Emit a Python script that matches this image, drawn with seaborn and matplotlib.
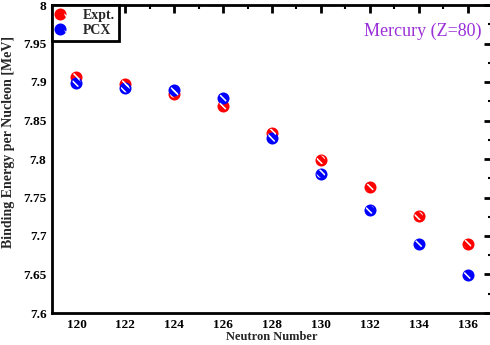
import matplotlib
matplotlib.use("Agg")
import matplotlib.pyplot as plt
import matplotlib.collections as mcoll
import seaborn as sns
import pandas as pd
import numpy as np
from matplotlib.ticker import MultipleLocator
from matplotlib.legend_handler import HandlerTuple

neutrons = [120, 122, 124, 126, 128, 130, 132, 134, 136]
expt = [7.907, 7.898, 7.885, 7.869, 7.834, 7.799, 7.763, 7.726, 7.690]
pcx = [7.899, 7.892, 7.889, 7.879, 7.827, 7.781, 7.734, 7.690, 7.649]

sns.set_theme(style="white")
plt.rcParams['font.family'] = ['Liberation Serif', 'DejaVu Serif']
plt.rcParams['hatch.linewidth'] = 1.1

df = pd.concat([
    pd.DataFrame({"N": neutrons, "BE": expt, "set": "Expt."}),
    pd.DataFrame({"N": neutrons, "BE": pcx, "set": "PCX"}),
])

fig = plt.figure(figsize=(4.9, 3.45), dpi=100)
ax = fig.add_axes([52/490, 32/345, 440/490, 308/345])

colors = {"Expt.": "#ff0000", "PCX": "#0000ff"}
handles = []
for name in ["Expt.", "PCX"]:
    sub = df[df["set"] == name]
    n0 = len(ax.collections)
    sns.scatterplot(data=sub, x="N", y="BE", ax=ax, s=75, marker="o",
                    color=colors[name], edgecolor=colors[name], linewidth=0,
                    legend=False, zorder=3)
    sns.scatterplot(data=sub, x="N", y="BE", ax=ax, s=38, marker="o",
                    facecolor="none", edgecolor="white", linewidth=0,
                    hatch="\\\\\\\\", legend=False, zorder=4)
    handles.append((ax.collections[n0], ax.collections[n0 + 1]))

ax.set_xlim(119, 137)
ax.set_ylim(7.6, 8.0)
ax.xaxis.set_major_locator(MultipleLocator(2))
ax.xaxis.set_minor_locator(MultipleLocator(1))
ax.yaxis.set_minor_locator(MultipleLocator(0.025))
ax.set_yticks([7.6, 7.65, 7.7, 7.75, 7.8, 7.85, 7.9, 7.95, 8.0])
ax.set_yticklabels(["7.6", "7.65", "7.7", "7.75", "7.8", "7.85", "7.9", "7.95", "8"])
ax.tick_params(which="both", direction="in", top=True, right=True, colors="black",
               labelsize=9.5, pad=4)
ax.tick_params(which="major", length=6, width=2)
ax.tick_params(which="minor", length=3, width=1.5)
for lab in ax.get_xticklabels() + ax.get_yticklabels():
    lab.set_fontweight("bold")
for sp in ax.spines.values():
    sp.set_linewidth(2)
    sp.set_color("black")

ax.set_xlabel("Neutron Number", fontsize=9, fontweight="bold", labelpad=0)
ax.set_ylabel("Binding Energy per Nucleon [MeV]", fontsize=10, fontweight="bold")
ax.yaxis.set_label_coords(-0.085, 0.555)

ax.text(0.975, 0.915, "Mercury (Z=80)", transform=ax.transAxes, ha="right", va="center",
        color="#9b30d9", fontsize=13)

leg = ax.legend(handles, ["Expt.", "PCX"], handler_map={tuple: HandlerTuple(ndivide=None, pad=0)},
                loc="upper left", frameon=True, fancybox=False, borderaxespad=0, framealpha=1,
                prop={"weight": "bold", "size": 10}, handletextpad=0.7,
                borderpad=0.3, labelspacing=0.15, handlelength=1.2, scatteryoffsets=[0.5])
leg.get_frame().set_edgecolor("black")
leg.get_frame().set_linewidth(2)
legend_colls = leg.findobj(mcoll.PathCollection)
for i, coll in enumerate(legend_colls):
    if i % 2 == 1:
        coll.set_facecolor("none")
        coll.set_edgecolor("white")
        coll.set_linewidth(0)
        coll.set_hatch("\\\\\\\\")
        coll.set_sizes([38])

fig.savefig("out.png", dpi=100)
